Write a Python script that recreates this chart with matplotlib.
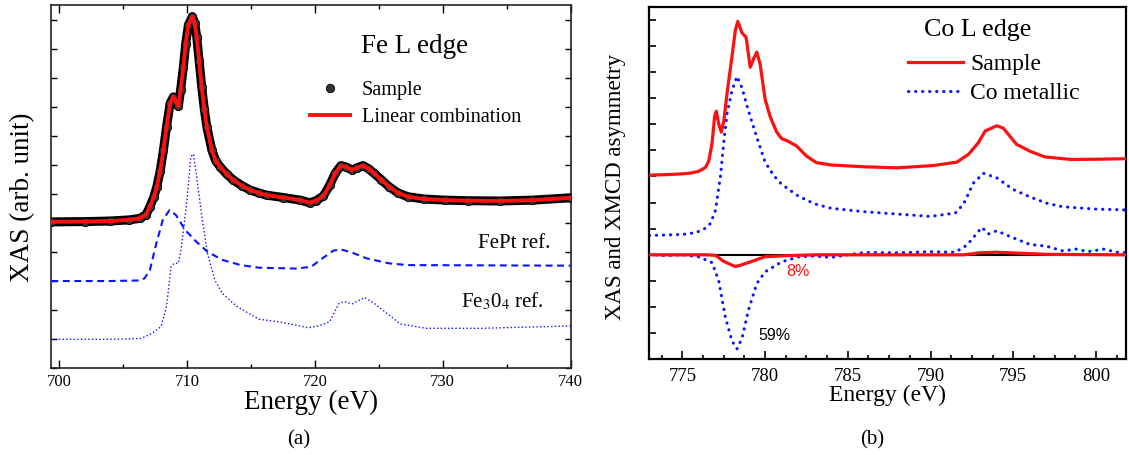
import numpy as np
import matplotlib.pyplot as plt
from matplotlib.ticker import MultipleLocator

plt.rcParams['font.family'] = ['Liberation Serif', 'DejaVu Serif']
plt.rcParams['mathtext.fontset'] = 'stix'

# Fe L edge (panel a)
fe_energy = [699.4, 702, 704, 705.5, 706.3, 706.8, 707.1, 707.4, 707.64, 707.9,
             708.16, 708.4, 708.68, 708.94, 709.15, 709.33, 709.5, 709.72, 709.9, 710.11,
             710.42, 710.6, 710.76, 710.95, 711.15, 711.35, 711.55, 711.94, 712.25, 712.59,
             713.1, 713.63, 714.3, 714.93, 715.6, 716.24, 717.54, 718.84, 719.6, 720.1,
             720.67, 721.16, 721.58, 722.03, 722.4, 722.9, 723.3, 723.77, 724.2, 724.64,
             725.2, 725.8, 726.5, 727.25, 728.5, 730.14, 732, 734.5, 737, 740]
fe_sample = [5.05, 5.06, 5.08, 5.12, 5.17, 5.3, 5.58, 5.9, 6.26, 6.8,
             7.53, 8.33, 9.14, 9.36, 9.2, 9.04, 9.6, 10.4, 11.2, 11.84,
             12.13, 11.9, 11.44, 10.6, 9.71, 8.95, 8.33, 7.53, 7.15, 6.95,
             6.7, 6.49, 6.3, 6.15, 6.05, 5.97, 5.89, 5.8, 5.71, 5.78,
             5.95, 6.32, 6.72, 6.99, 6.95, 6.84, 6.92, 6.99, 6.88, 6.72,
             6.5, 6.26, 6.05, 5.92, 5.84, 5.8, 5.78, 5.77, 5.8, 5.88]
fe_lincomb = [5.05, 5.06, 5.08, 5.12, 5.17, 5.3, 5.58, 5.9, 6.26, 6.8,
              7.53, 8.33, 9.14, 9.36, 9.2, 9.04, 9.6, 10.4, 11.2, 11.84,
              12.13, 11.9, 11.44, 10.6, 9.71, 8.95, 8.33, 7.53, 7.15, 6.95,
              6.7, 6.49, 6.3, 6.15, 6.05, 5.97, 5.89, 5.8, 5.71, 5.78,
              5.95, 6.32, 6.72, 6.99, 6.95, 6.84, 6.92, 6.99, 6.88, 6.72,
              6.5, 6.26, 6.05, 5.92, 5.84, 5.8, 5.78, 5.77, 5.8, 5.88]

fept_energy = [699.4, 704, 706.3, 706.67, 707.1, 707.54, 708.1, 708.64, 709.13, 709.86,
               710.72, 711.6, 712.75, 714.2, 715.65, 718.55, 719.7, 720.58, 721.45, 722.03,
               722.9, 724.06, 725.8, 727.25, 740]
fept_ref = [3.01, 3.01, 3.03, 3.1, 3.39, 4.2, 5.11, 5.46, 5.29, 4.77,
            4.37, 4.02, 3.74, 3.56, 3.47, 3.44, 3.5, 3.79, 4.06, 4.1,
            3.99, 3.79, 3.62, 3.56, 3.54]

fe3o4_energy = [699.4, 704, 706.4, 707.25, 707.97, 708.4, 708.75, 708.99, 709.33, 709.57,
                710.0, 710.3, 710.5, 710.72, 711.16, 711.6, 712.17, 712.75, 713.9, 715.65,
                717.1, 718.55, 719.42, 720.3, 721.16, 721.88, 722.3, 722.9, 723.9, 724.64,
                725.8, 726.67, 728.7, 733, 740]
fe3o4_ref = [1.0, 1.0, 1.03, 1.2, 1.44, 2.13, 3.5, 3.62, 3.62, 4.2,
             5.8, 7.3, 7.39, 6.72, 5.23, 3.97, 3.05, 2.59, 2.13, 1.69,
             1.61, 1.49, 1.4, 1.46, 1.61, 2.24, 2.3, 2.22, 2.44, 2.24,
             1.84, 1.53, 1.38, 1.38, 1.46]

# Co L edge (panel b)
co_energy = [773.0, 774.0, 775.0, 775.5, 776.0, 776.4, 776.6, 776.8, 776.95, 777.05,
             777.2, 777.35, 777.5, 777.7, 778.0, 778.2, 778.35, 778.6, 778.85, 779.1,
             779.3, 779.5, 779.7, 780.0, 780.3, 780.7, 781.0, 781.35, 781.9, 782.5,
             783.1, 784.0, 786.0, 788.0, 790.2, 791.6, 792.3, 792.9, 793.3, 794.0,
             794.4, 795.2, 796.0, 796.9, 798.5, 800.0, 801.8]
co_sample = [3.05, 3.07, 3.1, 3.13, 3.2, 3.35, 3.6, 4.3, 5.3, 5.5,
             5.0, 4.7, 5.1, 6.18, 7.6, 8.6, 8.94, 8.5, 8.33, 7.18,
             7.5, 7.76, 7.3, 5.96, 5.3, 4.7, 4.45, 4.36, 4.17, 3.78,
             3.53, 3.44, 3.37, 3.33, 3.42, 3.55, 3.85, 4.3, 4.74, 4.94,
             4.85, 4.23, 3.97, 3.75, 3.65, 3.66, 3.68]

com_energy = [773.0, 774, 775, 775.8, 776.3, 776.7, 777.0, 777.3, 777.5, 777.7,
              778.0, 778.3, 778.6, 779.0, 779.5, 780.0, 780.5, 781.0, 782.0, 783.0,
              784.0, 786, 788, 790, 791.5, 792.0, 792.6, 793.2, 794.0, 795.0,
              796.0, 797.0, 798.0, 800, 801.8]
co_metallic = [0.74, 0.76, 0.78, 0.85, 0.98, 1.2, 1.7, 3.0, 4.3, 5.4,
               6.3, 6.83, 6.4, 5.5, 4.5, 3.55, 3.05, 2.7, 2.25, 1.95,
               1.78, 1.65, 1.56, 1.47, 1.6, 1.95, 2.75, 3.12, 2.95, 2.5,
               2.22, 1.98, 1.84, 1.75, 1.72]

xmcd_m_energy = [773, 774, 775, 776, 776.8, 777.2, 777.6, 778.0, 778.3, 778.6,
                 779.0, 779.5, 780.0, 781.0, 782.0, 783.0, 784.0, 785.0, 786.0, 788.0,
                 790.0, 791.5, 792.2, 792.8, 793.1, 793.5, 794.0, 795.0, 796.0, 797.0,
                 798.0, 798.8, 799.5, 800.5, 801.2, 801.8]
xmcd_metallic = [0.02, -0.03, 0.0, -0.08, -0.3, -1.0, -2.4, -3.3, -3.6, -3.2,
                 -2.1, -1.1, -0.65, -0.27, -0.08, -0.05, -0.1, 0.0, 0.09, 0.08,
                 0.12, 0.1, 0.37, 0.82, 1.05, 0.8, 0.92, 0.65, 0.4, 0.33,
                 0.15, 0.22, 0.12, 0.22, 0.1, 0.08]

xmcd_s_energy = [773, 776.5, 777.0, 777.5, 778.2, 778.6, 779.2, 780.0, 781, 782,
                 783, 792, 793, 794, 795.5, 797, 801.8]
xmcd_sample = [0, 0, -0.02, -0.25, -0.45, -0.38, -0.25, -0.07, -0.04, -0.02,
               0, 0.0, 0.08, 0.1, 0.06, 0.02, 0.0]

RED = '#ff1010'
BLUE = '#0a14ff'

fig = plt.figure(figsize=(11.29, 4.55), dpi=100)

# ---- panel (a)
ax1 = fig.add_axes([0.0452, 0.1905, 0.4603, 0.7992])
ax1.plot(fe_energy, fe_sample, '-', color='black', lw=6.5, solid_capstyle='round', zorder=2)
ax1.plot(fe_energy, fe_sample, 'o', color='#333333', mec='black', mew=0.6, ms=6,
         zorder=3, label='Sample')
ax1.plot(fe_energy, fe_lincomb, '-', color=RED, lw=2.8, zorder=4, label='Linear combination')
ax1.plot(fept_energy, fept_ref, color=BLUE, lw=1.5, linestyle=(0, (3.3, 2.2)))
ax1.plot(fe3o4_energy, fe3o4_ref, color=BLUE, lw=1.0, linestyle=':')

ax1.set_xlim(699.37, 740)
ax1.set_ylim(0, 12.54)
ax1.xaxis.set_major_locator(MultipleLocator(10))
ax1.xaxis.set_minor_locator(MultipleLocator(5))
ax1.yaxis.set_major_locator(MultipleLocator(1))
ax1.set_yticklabels([])
ax1.tick_params(axis='x', which='major', direction='in', length=5.5, width=1, top=True,
                labelsize=12, pad=4)
ax1.tick_params(axis='x', which='minor', direction='in', length=3, width=1, top=True)
ax1.tick_params(axis='y', direction='in', length=4.5, width=1, left=True, right=True)
for s in ax1.spines.values():
    s.set_linewidth(1.2)
    s.set_color('#222222')
ax1.set_xlabel('Energy (eV)', fontsize=19.5, labelpad=0)
ax1.set_ylabel('XAS (arb. unit)', fontsize=19.5)
ax1.yaxis.set_label_coords(-0.03, 0.47)

ax1.text(723.6, 11.09, 'Fe L edge', fontsize=19.5, va='center', ha='left')
ax1.text(732.75, 4.31, 'FePt ref.', fontsize=15, va='center', ha='left')
ax1.text(731.4, 2.3, 'Fe$_3$0$_4$ ref.', fontsize=15, va='center', ha='left')
ax1.legend(loc='upper left', bbox_to_anchor=(0.498, 0.791), frameon=False, fontsize=14.6,
           handlelength=2.0, handletextpad=0.55, labelspacing=0.4, borderpad=0,
           borderaxespad=0, numpoints=1)

# ---- panel (b)
ax2 = fig.add_axes([0.5751, 0.2103, 0.422, 0.775])
ax2.axhline(0, color='black', lw=1.5, zorder=1)
ax2.plot(co_energy, co_sample, color=RED, lw=2.3, label='Sample', zorder=3)
ax2.plot(com_energy, co_metallic, color=BLUE, lw=2.2, linestyle=(0, (0.1, 2.2)),
         dash_capstyle='round', label='Co metallic', zorder=2)
ax2.plot(xmcd_m_energy, xmcd_metallic, color=BLUE, lw=2.2, linestyle=(0, (0.1, 2.2)),
         dash_capstyle='round', zorder=2)
ax2.plot(xmcd_s_energy, xmcd_sample, color=RED, lw=2.3, zorder=3)

ax2.set_xlim(773, 801.8)
ax2.set_ylim(-4.0, 9.5)
ax2.xaxis.set_major_locator(MultipleLocator(5))
ax2.xaxis.set_minor_locator(MultipleLocator(1.25))
ax2.yaxis.set_major_locator(MultipleLocator(1))
ax2.set_yticklabels([])
ax2.tick_params(axis='x', which='major', direction='in', length=6, width=1.2,
                labelsize=13.5, pad=6)
ax2.tick_params(axis='x', which='minor', direction='in', length=3, width=1.2)
ax2.tick_params(axis='y', direction='in', length=5, width=1.2)
for s in ax2.spines.values():
    s.set_linewidth(1.6)
ax2.set_xlabel('Energy (eV)', fontsize=17, labelpad=0)
ax2.set_ylabel('XAS and XMCD asymmetry', fontsize=16.5)
ax2.yaxis.set_label_coords(-0.048, 0.49)

ax2.text(789.6, 8.6, 'Co L edge', fontsize=18.7, va='center', ha='left')
ax2.text(781.27, -0.65, '8%', color=RED, fontsize=11.5, va='center', ha='left',
         family='Liberation Sans')
ax2.text(779.6, -3.08, '59%', color='black', fontsize=11.5, va='center', ha='left',
         family='Liberation Sans')
ax2.legend(loc='upper left', bbox_to_anchor=(0.543, 0.867), frameon=False, fontsize=17,
           handlelength=2.33, handletextpad=0.3, labelspacing=0.33, borderpad=0,
           borderaxespad=0)

fig.text(299 / 1129, 1 - 440 / 455, '(a)', fontsize=15, ha='center', va='center')
fig.text(872 / 1129, 1 - 440 / 455, '(b)', fontsize=15, ha='center', va='center')

fig.savefig('out.png', dpi=100)
